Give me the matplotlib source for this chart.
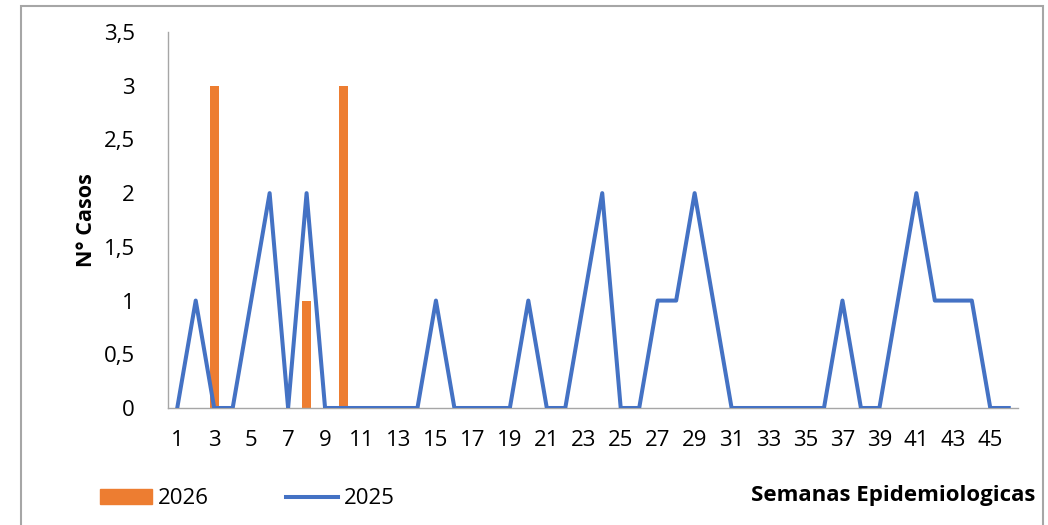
import matplotlib
matplotlib.use('Agg')
import matplotlib.pyplot as plt
from matplotlib.patches import Rectangle, Patch
from matplotlib.lines import Line2D
from matplotlib.ticker import FuncFormatter
import numpy as np

plt.rcParams['font.family'] = ['Open Sans', 'DejaVu Sans']

# semanas epidemiologicas 1..46
semanas = list(range(1, 47))
casos_2025 = [0, 1, 0, 0, 1, 2, 0, 2, 0, 0,
              0, 0, 0, 0, 1, 0, 0, 0, 0, 1,
              0, 0, 1, 2, 0, 0, 1, 1, 2, 1,
              0, 0, 0, 0, 0, 0, 1, 0, 0, 1,
              2, 1, 1, 1, 0, 0]
casos_2026 = {3: 3, 8: 1, 10: 3}
yticks = [0, 0.5, 1, 1.5, 2, 2.5, 3, 3.5]

azul = '#4472C4'
naranja = '#ED7D31'
gris = '#A6A6A6'

fig = plt.figure(figsize=(10.48, 5.25), dpi=100)
ax = fig.add_axes([168/1048, 1-408/525, (1018-168)/1048, (408-32)/525])

sem26 = list(casos_2026.keys())
val26 = list(casos_2026.values())
ax.bar(sem26, val26, width=0.5, color=naranja, zorder=2)
ax.plot(semanas, casos_2025, color=azul, lw=2.9, zorder=3)

ax.set_xlim(0.5, 46.5)
ax.set_ylim(0, 3.5)
ax.set_xticks(semanas[::2])
ax.set_yticks(yticks)
ax.yaxis.set_major_formatter(FuncFormatter(lambda v, p: ('%g' % v).replace('.', ',')))
ax.tick_params(axis='both', length=0, labelsize=16)
ax.tick_params(axis='x', pad=16)
ax.tick_params(axis='y', pad=24)

for s in ['top', 'right']:
    ax.spines[s].set_visible(False)
for s in ['left', 'bottom']:
    ax.spines[s].set_color(gris)
    ax.spines[s].set_linewidth(1.0)

fig.text(87/1048, 1-220/525, 'N° Casos', rotation=90, ha='center', va='center',
         fontsize=15.5, fontweight='bold')
fig.text(1035/1048, 1-495/525, 'Semanas Epidemiologicas', ha='right', va='center',
         fontsize=16, fontweight='bold')

handles = [Patch(color=naranja), Line2D([0], [0], color=azul, lw=2.9)]
fig.legend(handles, ['2026', '2025'], loc='center left',
           bbox_to_anchor=(100/1048, 1-499/525), ncol=2, frameon=False,
           fontsize=16, handlelength=2.35, handleheight=0.68, handletextpad=0.27,
           columnspacing=3.45, borderpad=0, borderaxespad=0)

# marco del grafico
fig.patches.append(Rectangle((21/1048, -0.05), (1043-21)/1048, 1.05-6/525,
                             transform=fig.transFigure, fill=False,
                             edgecolor=gris, lw=1.5))

fig.savefig('out.png', dpi=100)
